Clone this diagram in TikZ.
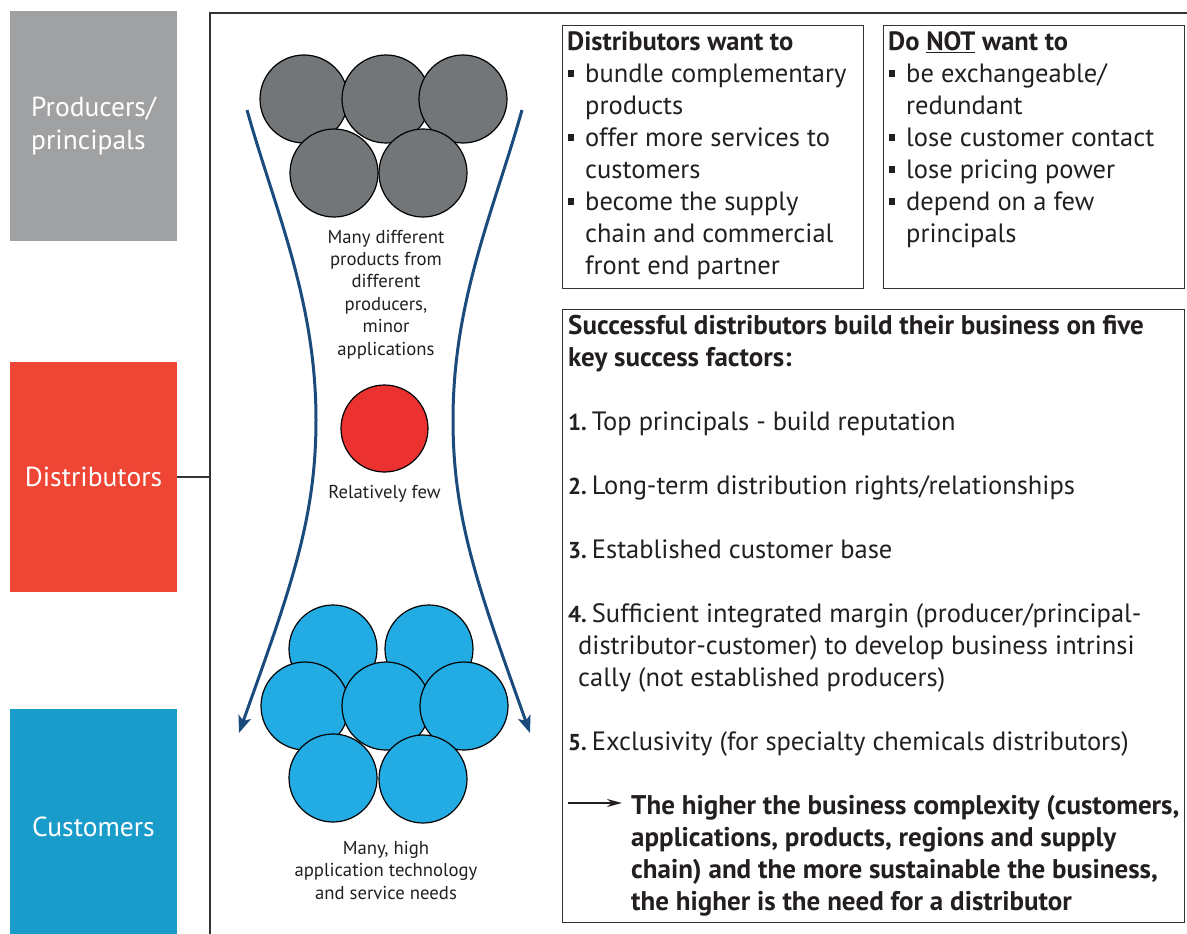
\documentclass[tikz,border=0pt]{standalone}
\usepackage{fontspec}
\setmainfont{PT Sans}
\usetikzlibrary{arrows.meta}

\definecolor{prodgray}{HTML}{A0A1A3}
\definecolor{distred}{HTML}{EE4535}
\definecolor{custblue}{HTML}{1A9CCB}
\definecolor{circgray}{HTML}{737679}
\definecolor{circred}{HTML}{EC3230}
\definecolor{circblue}{HTML}{22ACE3}
\definecolor{flowblue}{HTML}{1B4B7C}
\definecolor{ink}{HTML}{231F20}
\definecolor{framecol}{HTML}{333333}

% square bullet and hanging indent for the list boxes
\newcommand\sqbul{\hspace*{1pt}\makebox[17pt][l]{\rule[5pt]{6pt}{7pt}}}
\newcommand\hang{\hspace*{18pt}}
% bold item number, set a little smaller than the text
\newcommand\num[1]{{\fontsize{23}{32}\selectfont\bfseries #1}\hspace{5pt}}

\begin{document}
\begin{tikzpicture}[x=1pt,y=-1pt,
  sidebox/.style={minimum width=167pt,inner sep=0pt,text=white,align=left,
    font=\fontsize{27.5}{33}\selectfont},
  frame/.style={draw=framecol,line width=1.5pt},
  panel/.style={draw=framecol,line width=1.3pt,inner sep=0pt,anchor=north west},
  ball/.style={circle,draw=black,line width=1.2pt,minimum size=88pt,inner sep=0pt},
  flow/.style={draw=flowblue,line width=3pt,
    -{Stealth[length=17pt,width=13pt,inset=4pt]}},
  small/.style={text=ink,align=center,inner sep=0pt,
    font=\fontsize{18.7}{22.4}\selectfont},
  body/.style={text=ink,align=left,inner sep=0pt,anchor=base west,
    font=\fontsize{26.5}{32}\selectfont},
  bodybf/.style={body,font=\fontsize{27}{32}\selectfont\bfseries},
]
\useasboundingbox (0,0) rectangle (1187,934);

% outer frame (top and left edges)
\draw[frame] (210,934) -- (210,13) -- (1187,13);
\coordinate (frameL) at (210,477);

% stage labels on the left
\node[sidebox,fill=prodgray,minimum height=230pt] (prod) at (93.5,126) {Producers/\\principals};
\node[sidebox,fill=distred,minimum height=230pt] (dist) at (93.5,477) {Distributors};
\node[sidebox,fill=custblue,minimum height=236pt] (cust) at (93.5,827) {Customers};
\draw[frame] (dist.east) -- (frameL);

% funnel arrows
\coordinate (aLs) at (247,110);
\coordinate (aLm) at (316,420);
\coordinate (aLe) at (239,733);
\coordinate (aRs) at (522,110);
\coordinate (aRm) at (453,420);
\coordinate (aRe) at (530,733);
\draw[flow] (aLs) .. controls (275,210) and (316,300) .. (aLm)
                  .. controls (316,520) and (290,590) .. (aLe);
\draw[flow] (aRs) .. controls (494,210) and (453,300) .. (aRm)
                  .. controls (453,520) and (479,590) .. (aRe);

% producers
\node[ball,fill=circgray] (g1) at (304,99) {};
\node[ball,fill=circgray] (g2) at (386,99) {};
\node[ball,fill=circgray] (g3) at (463,99) {};
\node[ball,fill=circgray] (g4) at (334,173) {};
\node[ball,fill=circgray] (g5) at (423,173) {};
% multi-line nodes sit on the baseline of their last line
\node[small,anchor=base] (gtxt) at (386,355)
  {Many different\\products from\\different\\producers,\\minor\\applications};

% distributor
\node[ball,fill=circred,minimum size=87pt] (r1) at (384.5,428.5) {};
\node[small,anchor=base] (rtxt) at (384.5,498) {Relatively few};

% customers
\node[ball,fill=circblue] (c1) at (333,649) {};
\node[ball,fill=circblue] (c2) at (429,649) {};
\node[ball,fill=circblue] (c3) at (305,706) {};
\node[ball,fill=circblue] (c4) at (386,706) {};
\node[ball,fill=circblue] (c5) at (464,706) {};
\node[ball,fill=circblue] (c6) at (333,778) {};
\node[ball,fill=circblue] (c7) at (423,779) {};
\node[small,anchor=base] (ctxt) at (386,899)
  {Many, high\\application technology\\and service needs};

% what distributors want
\node[panel,minimum width=301pt,minimum height=263pt] (wantbox) at (562,25) {};
\node[body] (want) at (567,274) {\textbf{Distributors want to}\\
  \sqbul bundle complementary\\
  \hang products\\
  \sqbul offer more services to\\
  \hang customers\\
  \sqbul become the supply\\
  \hang chain and commercial\\
  \hang front end partner};

% what distributors avoid
\node[panel,minimum width=301pt,minimum height=263pt] (notbox) at (883,25) {};
\node[body] (notwant) at (888,242) {\textbf{Do \underline{NOT} want to}\\
  \sqbul be exchangeable/\\
  \hang redundant\\
  \sqbul lose customer contact\\
  \sqbul lose pricing power\\
  \sqbul depend on a few\\
  \hang principals};

% key success factors
\node[panel,minimum width=622pt,minimum height=613pt] (ksfbox) at (562,309) {};
\node[bodybf] (ksfhead) at (568,366)
  {Successful distributors build their business on five\\key success factors:};
\node[body] (f1) at (568,430) {\num{1.}Top principals - build reputation};
\node[body] (f2) at (568,494) {\num{2.}Long-term distribution rights/relationships};
\node[body] (f3) at (568,558) {\num{3.}Established customer base};
\node[body] (f4) at (568,686) {\num{4.}Sufficient integrated margin (producer/principal-\\
  \hspace*{10pt}distributor-customer) to develop business intrinsi\\
  \hspace*{10pt}cally (not established producers)};
\node[body] (f5) at (568,750) {\num{5.}Exclusivity (for specialty chemicals distributors)};
\coordinate (kA) at (568,803);
\coordinate (kB) at (622,803);
\draw[draw=ink,line width=1.8pt,-{Stealth[length=15pt,width=8pt]}] (kA) -- (kB);
\node[bodybf] (concl) at (631,910)
  {The higher the business complexity (customers,\\
   applications, products, regions and supply\\
   chain) and the more sustainable the business,\\
   the higher is the need for a distributor};
\end{tikzpicture}
\end{document}
